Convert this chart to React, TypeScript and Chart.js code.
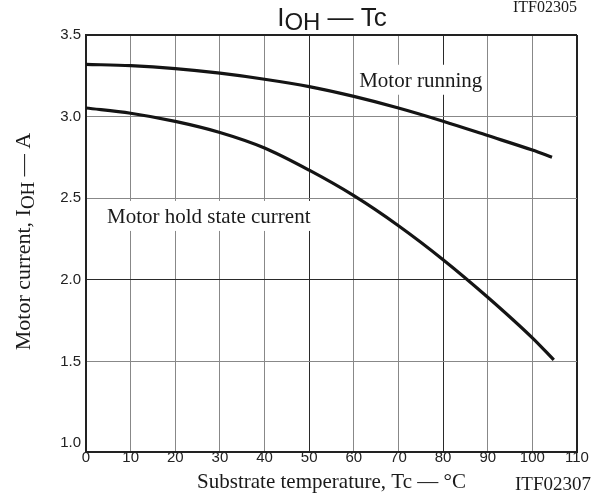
import React, { useEffect, useRef } from "react";
import { Chart, registerables } from "chart.js";

Chart.register(...registerables);

// ---- data ----
const runningTemps = [0, 10, 20, 30, 40, 50, 60, 70, 80, 90, 100, 104.4];
const runningCurrent = [3.32, 3.312, 3.294, 3.266, 3.229, 3.184, 3.124, 3.053, 2.972, 2.884, 2.795, 2.751];
const holdTemps = [0, 10, 20, 30, 40, 50, 60, 70, 80, 90, 100, 104.8];
const holdCurrent = [3.053, 3.021, 2.971, 2.903, 2.808, 2.672, 2.516, 2.332, 2.124, 1.894, 1.645, 1.51];
const xTicks = [0, 10, 20, 30, 40, 50, 60, 70, 80, 90, 100, 110];
const yTicks = [1.0, 1.5, 2.0, 2.5, 3.0, 3.5];
const seriesLabels = ["Motor running", "Motor hold state current"];
const labelAnchorX = [61.2, 4.7];
const labelAnchorY = [3.183, 2.349];

const SERIF = '"Liberation Serif", "Times New Roman", serif';
const SANS = '"Liberation Sans", Arial, sans-serif';

type Seg = { text: string; size: number; family: string; dy?: number };

function segWidth(ctx: CanvasRenderingContext2D, segs: Seg[]) {
  let w = 0;
  for (const s of segs) {
    ctx.font = `${s.size}px ${s.family}`;
    w += ctx.measureText(s.text).width;
  }
  return w;
}
function drawSegs(ctx: CanvasRenderingContext2D, segs: Seg[], x: number, y: number) {
  let cx = x;
  for (const s of segs) {
    ctx.font = `${s.size}px ${s.family}`;
    ctx.fillText(s.text, cx, y + (s.dy || 0));
    cx += ctx.measureText(s.text).width;
  }
}

const textPlugin = {
  id: "customTexts",
  afterDraw(chart: any) {
    const ctx: CanvasRenderingContext2D = chart.ctx;
    const xs = chart.scales.x;
    const ys = chart.scales.y;
    ctx.save();
    ctx.textAlign = "left";
    ctx.textBaseline = "alphabetic";

    // curve labels with white boxes
    seriesLabels.forEach((t, i) => {
      const px = xs.getPixelForValue(labelAnchorX[i]);
      const py = ys.getPixelForValue(labelAnchorY[i]);
      ctx.font = `21px ${SERIF}`;
      const w = ctx.measureText(t).width;
      ctx.fillStyle = "#ffffff";
      ctx.fillRect(px - 3, py - 22, w + 6, 30);
      ctx.fillStyle = "#1a1a1a";
      ctx.fillText(t, px, py);
    });

    // chart title
    ctx.fillStyle = "#1a1a1a";
    const titleSegs: Seg[] = [
      { text: "I", size: 26, family: SANS },
      { text: "OH", size: 24, family: SANS, dy: 4 },
      { text: " \u2014 Tc", size: 26, family: SANS },
    ];
    const tw = segWidth(ctx, titleSegs);
    drawSegs(ctx, titleSegs, 332 - tw / 2, 26);

    // figure codes
    ctx.textAlign = "right";
    ctx.font = `16px ${SERIF}`;
    ctx.fillText("ITF02305", 577, 12);
    ctx.font = `19px ${SERIF}`;
    ctx.fillText("ITF02307", 591, 490);
    ctx.textAlign = "left";

    // y-axis title
    const ySegs: Seg[] = [
      { text: "Motor current, I", size: 22, family: SERIF },
      { text: "OH", size: 19, family: SERIF, dy: 4 },
      { text: " \u2014 A", size: 22, family: SERIF },
    ];
    const yw = segWidth(ctx, ySegs);
    ctx.translate(30, 241.5);
    ctx.rotate(-Math.PI / 2);
    drawSegs(ctx, ySegs, -yw / 2, 0);
    ctx.restore();
  },
};

export default function App() {
  const ref = useRef<HTMLCanvasElement | null>(null);

  useEffect(() => {
    document.body.style.margin = "0";
    const canvas = ref.current;
    if (!canvas) return;

    const chart = new Chart(canvas, {
      type: "line",
      data: {
        datasets: [
          {
            label: seriesLabels[0],
            data: runningTemps.map((t, i) => ({ x: t, y: runningCurrent[i] })),
            borderColor: "#141414",
            borderWidth: 3.2,
            pointRadius: 0,
            cubicInterpolationMode: "monotone",
            fill: false,
          },
          {
            label: seriesLabels[1],
            data: holdTemps.map((t, i) => ({ x: t, y: holdCurrent[i] })),
            borderColor: "#141414",
            borderWidth: 3.2,
            pointRadius: 0,
            cubicInterpolationMode: "monotone",
            fill: false,
          },
        ],
      },
      options: {
        animation: false,
        responsive: false,
        maintainAspectRatio: false,
        layout: { padding: { left: 0, top: 35, right: 22, bottom: 0 } },
        plugins: {
          legend: { display: false },
          tooltip: { enabled: false },
          title: { display: false },
        },
        scales: {
          x: {
            type: "linear",
            min: 0,
            max: 110,
            afterBuildTicks: (s: any) => {
              s.ticks = xTicks.map((v) => ({ value: v }));
            },
            afterFit: (s: any) => {
              s.height = 43;
            },
            ticks: {
              mirror: true,
              padding: -15,
              autoSkip: false,
              maxRotation: 0,
              color: "#222222",
              font: { family: SANS, size: 15 },
            },
            grid: {
              drawTicks: false,
              color: ((c: any) => {
                const v = c.tick ? c.tick.value : null;
                if (v === 110) return "#222222";
                if (v === 50 || v === 80) return "#2a2a2a";
                return "#888888";
              }) as any,
              lineWidth: ((c: any) => (c.tick && c.tick.value === 110 ? 2 : 1)) as any,
            },
            border: { display: true, color: "#222222", width: 2 },
            title: {
              display: true,
              text: "Substrate temperature, Tc \u2014 \u00B0C",
              color: "#1a1a1a",
              font: { family: SERIF, size: 21 },
              padding: { top: 0, bottom: 0 },
            },
          },
          y: {
            type: "linear",
            min: 0.946,
            max: 3.5,
            afterBuildTicks: (s: any) => {
              s.ticks = yTicks.map((v) => ({ value: v }));
            },
            afterFit: (s: any) => {
              s.width = 86;
            },
            ticks: {
              padding: 5,
              color: "#222222",
              font: { family: SANS, size: 15 },
              callback: (v: any) => Number(v).toFixed(1),
            },
            grid: {
              drawTicks: false,
              color: ((c: any) => {
                const v = c.tick ? c.tick.value : null;
                if (v === 1) return "rgba(0,0,0,0)";
                if (v === 3.5) return "#222222";
                if (v === 2) return "#2a2a2a";
                return "#888888";
              }) as any,
              lineWidth: ((c: any) => (c.tick && c.tick.value === 3.5 ? 2 : 1)) as any,
            },
            border: { display: true, color: "#222222", width: 2 },
          },
        },
      },
      plugins: [textPlugin],
    } as any);

    return () => chart.destroy();
  }, []);

  return (
    <div style={{ width: 599, height: 495 }}>
      <canvas ref={ref} width={599} height={495} style={{ display: "block" }} />
    </div>
  );
}
